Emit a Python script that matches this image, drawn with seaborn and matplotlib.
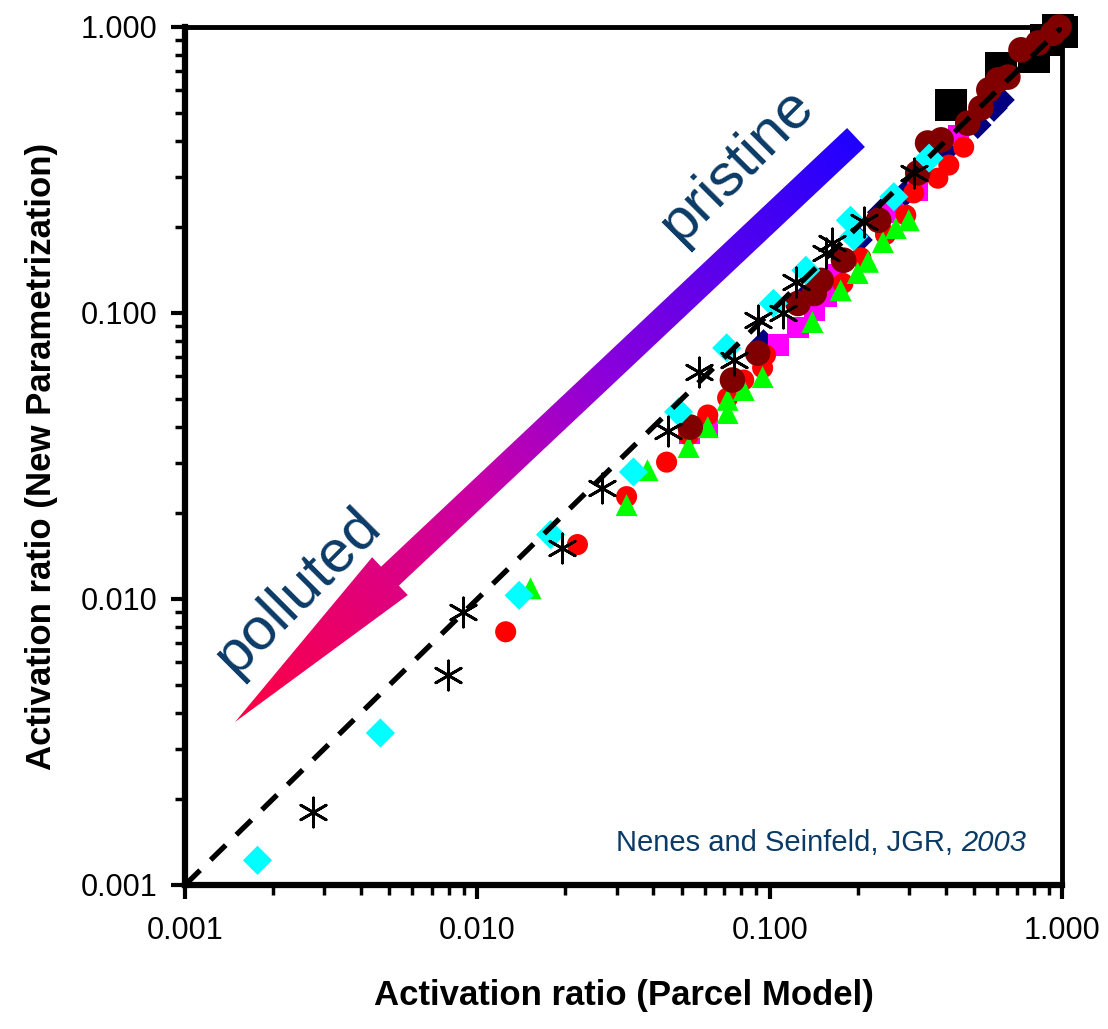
import numpy as np
import pandas as pd
import matplotlib
matplotlib.use('Agg')
import matplotlib.pyplot as plt
import seaborn as sns
from matplotlib.colors import LinearSegmentedColormap
from matplotlib.patches import Polygon
from matplotlib.ticker import FixedLocator, LogLocator, NullFormatter

sns.set_style('white')
plt.rcParams['font.family'] = ['Liberation Sans', 'DejaVu Sans']
plt.rcParams['axes.edgecolor'] = 'black'
plt.rcParams['axes.labelcolor'] = 'black'
plt.rcParams['xtick.color'] = 'black'
plt.rcParams['ytick.color'] = 'black'
plt.rcParams['text.color'] = 'black'

# ---- data (parcel model x, new parametrization y) ----
sq_black_x = [0.417, 0.62, 0.80, 0.88, 0.97, 1.0]
sq_black_y = [0.533, 0.72, 0.785, 0.90, 0.98, 0.96]

navy_x = [0.0953, 0.130, 0.202, 0.24, 0.292, 0.40, 0.515, 0.585, 0.618]
navy_y = [0.0785, 0.112, 0.180, 0.225, 0.263, 0.37, 0.454, 0.521, 0.556]

magenta_x = [0.053, 0.0614, 0.107, 0.125, 0.142, 0.156, 0.168, 0.264, 0.321, 0.443]
magenta_y = [0.038, 0.040, 0.0773, 0.0893, 0.102, 0.114, 0.136, 0.224, 0.269, 0.419]

red_x = [0.0125, 0.022, 0.0324, 0.0444, 0.0528, 0.0614, 0.0718, 0.0815, 0.0946, 0.0968,
         0.178, 0.205, 0.249, 0.292, 0.311, 0.376, 0.41, 0.461]
red_y = [0.00768, 0.0155, 0.0228, 0.0301, 0.0374, 0.044, 0.0505, 0.0583, 0.0643, 0.0713,
         0.127, 0.156, 0.188, 0.220, 0.263, 0.296, 0.329, 0.38]

green_x = [0.0152, 0.0324, 0.0382, 0.0528, 0.0614, 0.0718, 0.0718, 0.0815, 0.0946,
           0.140, 0.175, 0.200, 0.217, 0.244, 0.270, 0.299]
green_y = [0.0109, 0.0213, 0.0282, 0.034, 0.0399, 0.0447, 0.0497, 0.0538, 0.0597,
           0.093, 0.120, 0.138, 0.151, 0.177, 0.198, 0.211]

maroon_x = [0.0535, 0.0746, 0.091, 0.125, 0.142, 0.150, 0.179, 0.236, 0.321, 0.347,
            0.386, 0.476, 0.528, 0.562, 0.604, 0.653, 0.724, 0.828, 0.93, 0.977]
maroon_y = [0.0399, 0.0583, 0.0724, 0.108, 0.117, 0.130, 0.153, 0.211, 0.309, 0.393,
            0.403, 0.461, 0.521, 0.603, 0.653, 0.668, 0.832, 0.879, 0.95, 1.0]

cyan_x = [0.00177, 0.00466, 0.0139, 0.0178, 0.0342, 0.0488, 0.0713, 0.103, 0.133,
          0.189, 0.194, 0.266, 0.351]
cyan_y = [0.00122, 0.0034, 0.0103, 0.0168, 0.0278, 0.0451, 0.0755, 0.108, 0.141,
          0.211, 0.185, 0.255, 0.348]

star_x = [0.00274, 0.00796, 0.00895, 0.0195, 0.0268, 0.0448, 0.0571, 0.0753, 0.091,
          0.111, 0.123, 0.156, 0.164, 0.210, 0.311]
star_y = [0.0018, 0.00542, 0.0090, 0.0151, 0.0244, 0.0386, 0.0622, 0.0686, 0.0946,
          0.100, 0.128, 0.162, 0.176, 0.208, 0.309]

one_to_one = [0.001, 1.0]

tick_vals = [0.001, 0.01, 0.1, 1.0]
tick_labels = ['0.001', '0.010', '0.100', '1.000']

# ---- figure ----
W, H = 1108, 1029
fig = plt.figure(figsize=(W / 100, H / 100), dpi=100)
ax = fig.add_axes([185 / W, 1 - 885 / H, (1062 - 185) / W, (885 - 27) / H])

def pts(x, y):
    return pd.DataFrame({'x': x, 'y': y})

common = dict(x='x', y='y', ax=ax, clip_on=False, legend=False)
sns.scatterplot(data=pts(sq_black_x, sq_black_y), marker='s', s=520, color='black',
                edgecolor='none', zorder=3, **common)
sns.scatterplot(data=pts(navy_x, navy_y), marker='D', s=200, color='#000080',
                edgecolor='none', zorder=4, **common)
sns.scatterplot(data=pts(magenta_x, magenta_y), marker='s', s=230, color='#FF00FF',
                edgecolor='none', zorder=5, **common)
sns.scatterplot(data=pts(red_x, red_y), marker='o', s=230, color='#FF0000',
                edgecolor='none', zorder=6, **common)
sns.scatterplot(data=pts(green_x, green_y), marker='^', s=250, color='#00FF00',
                edgecolor='none', zorder=7, **common)
sns.scatterplot(data=pts(maroon_x, maroon_y), marker='o', s=340, color='#800000',
                edgecolor='none', zorder=8, **common)
sns.scatterplot(data=pts(cyan_x, cyan_y), marker='D', s=220, color='#00FFFF',
                edgecolor='none', zorder=9, **common)
sns.scatterplot(data=pts(star_x, star_y), marker=(6, 2, 0), s=440, color='black',
                edgecolor='black', linewidth=2.0, zorder=10, **common)
sns.lineplot(x=one_to_one, y=one_to_one, ax=ax, color='black', lw=3.8,
             linestyle=(0, (4, 2.8)), zorder=11)

ax.set_xscale('log')
ax.set_yscale('log')
ax.set_xlim(0.001, 1.0)
ax.set_ylim(0.001, 1.0)
for axis in (ax.xaxis, ax.yaxis):
    axis.set_major_locator(FixedLocator(tick_vals))
    axis.set_minor_locator(LogLocator(base=10, subs=np.arange(2, 10)))
    axis.set_minor_formatter(NullFormatter())
ax.set_xticklabels(tick_labels)
ax.set_yticklabels(tick_labels)
ax.tick_params(which='major', direction='out', length=10, width=3, labelsize=22,
               bottom=True, left=True, top=False, right=False)
ax.tick_params(which='minor', direction='out', length=7, width=2.5,
               bottom=True, left=True, top=False, right=False)
ax.tick_params(axis='x', pad=12)
ax.tick_params(axis='y', pad=10)
for side in ['left', 'bottom']:
    ax.spines[side].set_linewidth(4.5)
for side in ['top', 'right']:
    ax.spines[side].set_linewidth(3.5)
ax.set_xlabel('Activation ratio (Parcel Model)', fontsize=25, fontweight='bold', labelpad=24)
ax.set_ylabel('Activation ratio (New Parametrization)', fontsize=25, fontweight='bold', labelpad=16)

# ---- gradient arrow (pixel coordinates on an overlay) ----
ov = fig.add_axes([0, 0, 1, 1], zorder=5)
ov.set_xlim(0, W)
ov.set_ylim(H, 0)
ov.axis('off')
S = np.array([856.0, 137.5])
T = np.array([235.0, 722.0])
d = (T - S) / np.linalg.norm(T - S)
p = np.array([-d[1], d[0]])
B = S + d * 640
poly = [S - 13 * p, B - 13 * p, B - 26 * p, T, B + 26 * p, B + 13 * p, S + 13 * p]
patch = Polygon(poly, closed=True, facecolor='none', edgecolor='none')
ov.add_patch(patch)
cmap = LinearSegmentedColormap.from_list(
    'arrow', [(0, '#2000FF'), (0.4, '#8A00DC'), (0.6, '#C800A8'), (1, '#FF0040')])
gx, gy = np.meshgrid(np.arange(225, 875), np.arange(120, 730))
t = ((gx - S[0]) * d[0] + (gy - S[1]) * d[1]) / np.linalg.norm(T - S)
im = ov.imshow(t, extent=(225, 875, 730, 120), origin='upper', cmap=cmap,
               vmin=0, vmax=1, aspect='auto', interpolation='bilinear')
im.set_clip_path(patch)
ov.set_xlim(0, W)
ov.set_ylim(H, 0)

txt_color = '#0A3A66'
ov.text(737, 165, 'pristine', fontsize=43, color=txt_color, rotation=45,
        ha='center', va='center', rotation_mode='anchor')
ov.text(298, 592, 'polluted', fontsize=43, color=txt_color, rotation=45,
        ha='center', va='center', rotation_mode='anchor')
ov.text(953, 843, 'Nenes and Seinfeld, JGR,', fontsize=21, color=txt_color,
        ha='right', va='center')
ov.text(961, 843, '2003', fontsize=21, color=txt_color, style='italic',
        ha='left', va='center')

plt.savefig('out.png', dpi=100)
